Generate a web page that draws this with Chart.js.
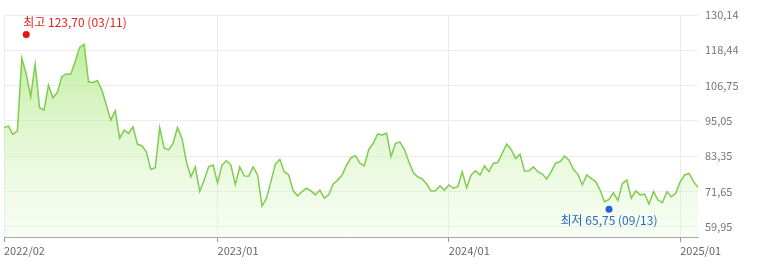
<!DOCTYPE html>
<html>
<head>
<meta charset="utf-8">
<script src="https://cdn.jsdelivr.net/npm/chart.js@4/dist/chart.umd.min.js"></script>
<style>
  html, body { margin: 0; padding: 0; background: #fff; }
  #wrap { width: 771px; height: 276px; }
</style>
</head>
<body>
<div id="wrap"><canvas id="priceChart"></canvas></div>
<script>
// weekly closes (Fridays), from 2022/02/04 to 2025/01/31
const prices = [
  92.8, 93.3, 90.6, 91.7, 115.8, 110.6, 103.1, 113.9, 99.4, 98.6,
  106.9, 102.7, 104.5, 109.7, 110.6, 110.5, 114.7, 119.4, 120.4, 108.0,
  107.8, 108.4, 105.3, 100.3, 95.3, 98.4, 89.3, 92.0, 90.9, 93.1,
  87.3, 86.8, 84.8, 79.0, 79.5, 92.8, 86.0, 85.4, 87.6, 92.8,
  89.3, 81.5, 76.5, 79.8, 71.6, 75.4, 79.8, 80.4, 74.5, 80.4,
  81.8, 80.4, 73.9, 79.8, 76.8, 76.7, 79.8, 77.1, 66.8, 69.4,
  74.9, 80.7, 82.3, 78.2, 77.1, 71.9, 70.2, 71.6, 72.7, 71.8,
  70.5, 72.1, 69.4, 70.5, 74.1, 75.4, 77.1, 80.4, 82.8, 83.5,
  81.0, 80.1, 85.6, 87.6, 90.7, 90.4, 90.9, 83.2, 87.6, 88.0,
  85.6, 81.5, 77.9, 76.5, 75.8, 74.1, 71.8, 71.9, 73.5, 72.1,
  73.8, 72.7, 73.2, 78.2, 72.9, 77.1, 78.5, 77.1, 80.1, 78.2,
  81.0, 81.2, 84.3, 87.3, 85.6, 82.6, 84.0, 78.4, 78.5, 79.8,
  78.2, 77.4, 75.8, 78.2, 81.0, 81.5, 83.4, 82.1, 79.0, 77.3,
  73.8, 77.1, 76.0, 74.9, 72.1, 68.2, 69.0, 71.2, 68.6, 74.3,
  75.4, 69.4, 71.8, 70.5, 70.8, 67.5, 71.6, 68.8, 67.9, 71.6,
  69.9, 71.0, 74.9, 77.1, 77.6, 74.9, 73.0
];

const xTickIdx = [0, 48, 100, 152];
const xTickLabels = ['2022/02', '2023/01', '2024/01', '2025/01'];
const yTicks = [59.95, 71.65, 83.35, 95.05, 106.75, 118.44, 130.14];
const yMin = 56.54;
const yMax = 130.14;

const highIdx = 5, highValue = 123.70, highDate = '03/11';
const lowIdx = 136, lowValue = 65.75, lowDate = '09/13';

const fmt = v => v.toFixed(2).replace('.', ',');
const FONT = '"Noto Sans CJK KR", "Noto Sans", sans-serif';

const lineData = prices.map((v, i) => ({ x: i, y: v }));

const markLabels = {
  id: 'markLabels',
  afterDatasetsDraw(chart) {
    const { ctx, scales: { x, y } } = chart;
    ctx.save();
    ctx.font = '12px ' + FONT;
    ctx.textBaseline = 'middle';

    const hx = x.getPixelForValue(highIdx), hy = y.getPixelForValue(highValue);
    ctx.fillStyle = '#e3241c';
    ctx.textAlign = 'left';
    ctx.fillText('최고 ' + fmt(highValue) + ' (' + highDate + ')', hx - 3, hy - 12);

    const lx = x.getPixelForValue(lowIdx), ly = y.getPixelForValue(lowValue);
    ctx.fillStyle = '#2a6cc0';
    ctx.textAlign = 'center';
    ctx.fillText('최저 ' + fmt(lowValue) + ' (' + lowDate + ')', lx, ly + 11);
    ctx.restore();
  }
};

new Chart(document.getElementById('priceChart'), {
  type: 'line',
  data: {
    datasets: [
      {
        data: lineData,
        order: 1,
        borderColor: '#7fcc4e',
        borderWidth: 1.5,
        pointRadius: 0,
        tension: 0,
        fill: 'start',
        backgroundColor: (c) => {
          const area = c.chart.chartArea;
          if (!area) return 'rgba(190,240,160,0.5)';
          const g = c.chart.ctx.createLinearGradient(0, area.top, 0, area.bottom);
          g.addColorStop(0, 'rgba(160,228,110,0.8)');
          g.addColorStop(1, 'rgba(225,248,210,0.25)');
          return g;
        }
      },
      {
        type: 'scatter',
        order: 0,
        data: [{ x: highIdx, y: highValue }],
        pointRadius: 3.5,
        pointBackgroundColor: '#e8120f',
        pointBorderWidth: 0
      },
      {
        type: 'scatter',
        order: 0,
        data: [{ x: lowIdx, y: lowValue }],
        pointRadius: 3.5,
        pointBackgroundColor: '#1f63d8',
        pointBorderWidth: 0
      }
    ]
  },
  options: {
    responsive: true, maintainAspectRatio: false,
    animation: false,
    layout: { padding: { top: 15, left: 4, right: 0, bottom: 0 } },
    plugins: { legend: { display: false }, tooltip: { enabled: false } },
    scales: {
      x: {
        type: 'linear', min: 0, max: prices.length - 1,
        afterBuildTicks: (s) => { s.ticks = xTickIdx.map(v => ({ value: v })); },
        afterFit: (s) => { s.height = 39; },
        ticks: {
          align: 'start', padding: 2, color: '#666', maxRotation: 0, autoSkip: false,
          font: { family: FONT, size: 11 },
          callback: (v) => xTickLabels[xTickIdx.indexOf(v)]
        },
        grid: { color: '#ebebeb', tickColor: '#999', tickLength: 5 },
        border: { color: '#a8a8a8' }
      },
      y: {
        position: 'right', min: yMin, max: yMax,
        afterBuildTicks: (s) => { s.ticks = yTicks.map(v => ({ value: v })); },
        afterFit: (s) => { s.width = 73; },
        ticks: {
          padding: 7, color: '#777',
          font: { family: FONT, size: 11 },
          callback: (v) => fmt(v)
        },
        grid: { color: '#ececec', drawTicks: false },
        border: { display: false }
      }
    }
  },
  plugins: [markLabels]
});
</script>
</body>
</html>
